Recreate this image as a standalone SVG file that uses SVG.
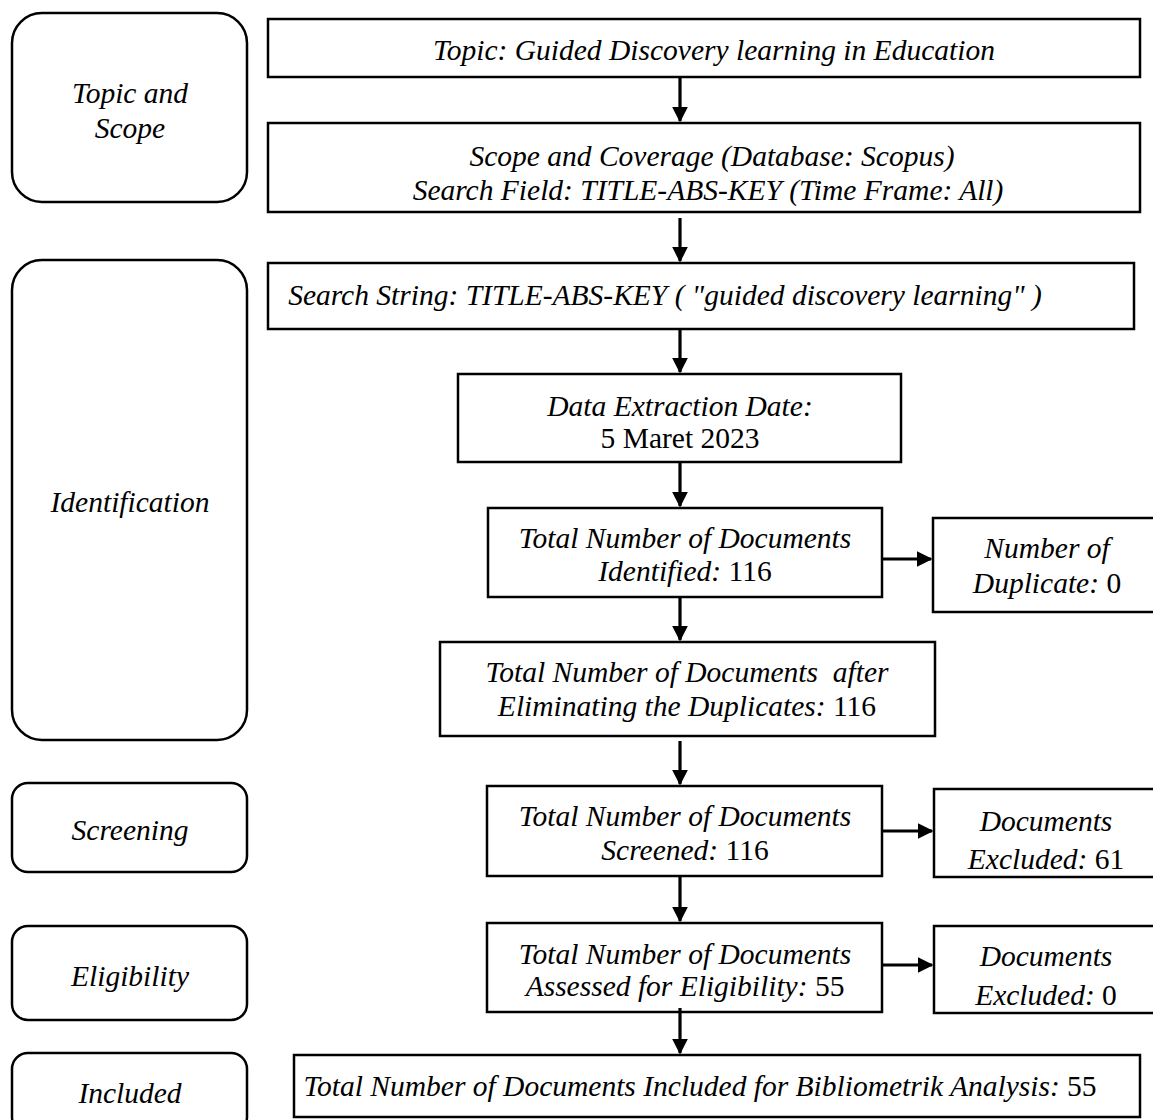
<svg xmlns="http://www.w3.org/2000/svg" width="1153" height="1120" viewBox="0 0 1153 1120">
<style>
.box{fill:#fff;stroke:#000;stroke-width:2.5}
.stage{fill:#fff;stroke:#000;stroke-width:2.5}
text{font-family:"Liberation Serif","Times New Roman",serif;font-size:29.5px;fill:#000;text-anchor:middle}
.i{font-style:italic}
.r{font-style:normal}
.c{stroke:#000;stroke-width:3.2;fill:none}
</style>
<defs>
<marker id="ah" markerWidth="5" markerHeight="5" refX="4.5" refY="2.5" orient="auto" markerUnits="strokeWidth">
<path d="M0,0 L5,2.5 L0,5 Z" fill="#000"/>
</marker>
</defs>
<rect width="1153" height="1120" fill="#fff"/>

<g id="stage-topic"><rect class="stage" x="12" y="13" width="235" height="189" rx="30"/><text class="i" x="130" y="103">Topic and</text><text class="i" x="130" y="138">Scope</text></g>
<g id="stage-identification"><rect class="stage" x="12" y="260" width="235" height="480" rx="30"/><text class="i" x="130" y="512">Identification</text></g>
<g id="stage-screening"><rect class="stage" x="12" y="783" width="235" height="89" rx="16"/><text class="i" x="130" y="840">Screening</text></g>
<g id="stage-eligibility"><rect class="stage" x="12" y="926" width="235" height="94" rx="16"/><text class="i" x="130" y="986">Eligibility</text></g>
<g id="stage-included"><rect class="stage" x="12" y="1053" width="235" height="80" rx="16"/><text class="i" x="130" y="1103">Included</text></g>

<g id="n-topic"><rect class="box" x="268" y="19" width="872" height="58"/><text class="i" x="714" y="60">Topic: Guided Discovery learning in Education</text></g>
<g id="n-scope"><rect class="box" x="268" y="123" width="872" height="89"/><text class="i" x="712" y="166">Scope and Coverage (Database: Scopus)</text><text class="i" x="708" y="200">Search Field: TITLE-ABS-KEY (Time Frame: All)</text></g>
<g id="n-search"><rect class="box" x="268" y="263" width="866" height="66"/><text class="i" x="665" y="305">Search String: TITLE-ABS-KEY ( "guided discovery learning" )</text></g>
<g id="n-date"><rect class="box" x="458" y="374" width="443" height="88"/><text class="i" x="680" y="416">Data Extraction Date:</text><text class="r" x="680" y="448">5 Maret 2023</text></g>
<g id="n-identified"><rect class="box" x="488" y="508" width="394" height="89"/><text class="i" x="685" y="548">Total Number of Documents</text><text x="685" y="581"><tspan class="i">Identified:</tspan> 116</text></g>
<g id="n-duplicate"><rect class="box" x="933" y="518" width="225" height="94"/><text class="i" x="1047" y="558">Number of</text><text x="1047" y="593"><tspan class="i">Duplicate:</tspan> 0</text></g>
<g id="n-after"><rect class="box" x="440" y="642" width="495" height="94"/><text class="i" x="687" y="682" xml:space="preserve">Total Number of Documents  after</text><text x="687" y="716"><tspan class="i">Eliminating the Duplicates:</tspan> 116</text></g>
<g id="n-screened"><rect class="box" x="487" y="786" width="395" height="90"/><text class="i" x="685" y="826">Total Number of Documents</text><text x="685" y="860"><tspan class="i">Screened:</tspan> 116</text></g>
<g id="n-excl61"><rect class="box" x="934" y="789" width="225" height="88"/><text class="i" x="1046" y="831">Documents</text><text x="1046" y="869"><tspan class="i">Excluded:</tspan> 61</text></g>
<g id="n-assessed"><rect class="box" x="487" y="923" width="395" height="89"/><text class="i" x="685" y="964">Total Number of Documents</text><text x="685" y="996"><tspan class="i">Assessed for Eligibility:</tspan> 55</text></g>
<g id="n-excl0"><rect class="box" x="934" y="926" width="225" height="87"/><text class="i" x="1046" y="966">Documents</text><text x="1046" y="1005"><tspan class="i">Excluded:</tspan> 0</text></g>
<g id="n-included"><rect class="box" x="294" y="1055" width="846" height="62"/><text x="700" y="1096"><tspan class="i">Total Number of Documents Included for Bibliometrik Analysis:</tspan> 55</text></g>

<g id="connectors">
<line class="c" x1="680" y1="77" x2="680" y2="121" marker-end="url(#ah)"/>
<line class="c" x1="680" y1="218" x2="680" y2="261" marker-end="url(#ah)"/>
<line class="c" x1="680" y1="329" x2="680" y2="372" marker-end="url(#ah)"/>
<line class="c" x1="680" y1="462" x2="680" y2="506" marker-end="url(#ah)"/>
<line class="c" x1="680" y1="597" x2="680" y2="640" marker-end="url(#ah)"/>
<line class="c" x1="680" y1="741" x2="680" y2="784" marker-end="url(#ah)"/>
<line class="c" x1="680" y1="876" x2="680" y2="921" marker-end="url(#ah)"/>
<line class="c" x1="680" y1="1008" x2="680" y2="1053" marker-end="url(#ah)"/>
<line class="c" x1="882" y1="559" x2="931" y2="559" marker-end="url(#ah)"/>
<line class="c" x1="882" y1="831" x2="932" y2="831" marker-end="url(#ah)"/>
<line class="c" x1="882" y1="965" x2="932" y2="965" marker-end="url(#ah)"/>
</g>
</svg>
